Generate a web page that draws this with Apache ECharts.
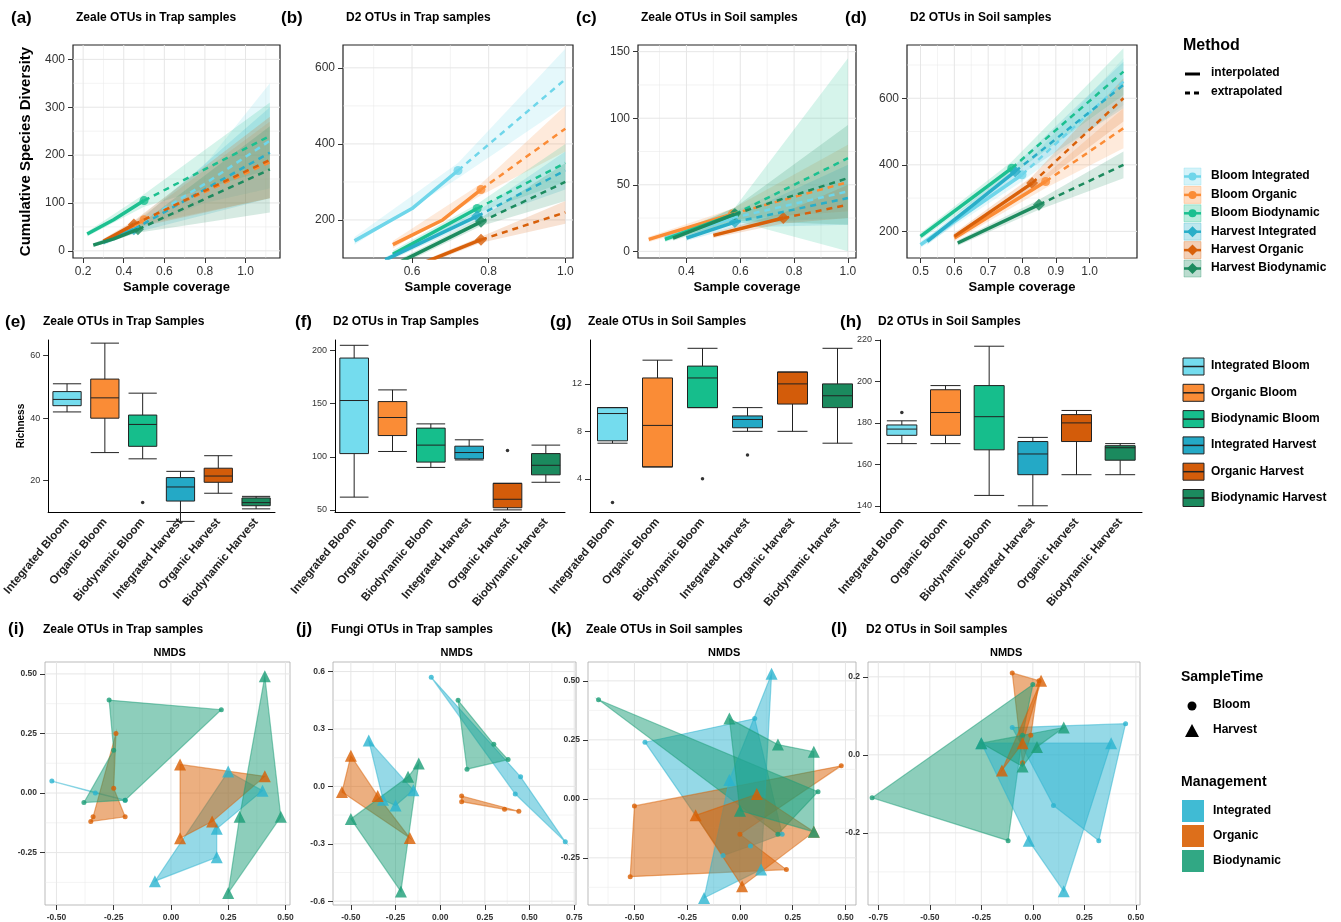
<!DOCTYPE html>
<html><head><meta charset="utf-8">
<script src="https://cdn.jsdelivr.net/npm/echarts@6/dist/echarts.min.js"></script>
<style>html,body{margin:0;background:#fff}#c{width:1341px;height:922px}</style></head>
<body><div id="c"></div>
<script>
// ---------- DATA ----------
const rareNames = ['Bloom Integrated','Bloom Organic','Bloom Biodynamic','Harvest Integrated','Harvest Organic','Harvest Biodynamic'];
const rareColors = ['#6fd6ea','#fb8c36','#1cc090','#29aec8','#d8600a','#1d8b5f'];
// each: [interpolated points, extrapolated points, band [x,lo,hi]]
const rareA = [
 [[[0.3,18],[0.45,50]],[[0.8,140],[1.12,230]],[[0.3,12,24],[0.45,40,60],[0.8,100,180],[1.12,130,350]]],
 [[[0.35,28],[0.5,65]],[[1.12,185]],[[0.35,22,34],[0.5,55,75],[1.12,110,270]]],
 [[[0.22,35],[0.35,65],[0.5,105]],[[1.12,240]],[[0.22,30,40],[0.5,92,118],[1.12,170,310]]],
 [[[0.3,18],[0.45,45]],[[1.12,205]],[[0.3,12,24],[0.45,37,53],[1.12,110,300]]],
 [[[0.3,20],[0.45,55]],[[1.12,190]],[[0.3,15,25],[0.45,47,63],[1.12,110,280]]],
 [[[0.25,12],[0.35,25],[0.47,45]],[[1.12,170]],[[0.25,8,16],[0.47,38,52],[1.12,80,260]]]
];
const rareB = [
 [[[0.45,145],[0.6,230],[0.72,330]],[[1.0,570]],[[0.45,135,155],[0.72,310,350],[1.0,500,650]]],
 [[[0.55,135],[0.68,200],[0.78,280]],[[1.0,440]],[[0.55,125,145],[0.78,265,295],[1.0,380,500]]],
 [[[0.55,110],[0.77,230]],[[1.0,350]],[[0.55,100,120],[0.77,218,242],[1.0,300,400]]],
 [[[0.53,95],[0.77,210]],[[1.0,330]],[[0.53,88,102],[0.77,198,222],[1.0,280,380]]],
 [[[0.55,55],[0.78,148]],[[1.0,220]],[[0.55,50,60],[0.78,140,156],[1.0,190,250]]],
 [[[0.55,80],[0.78,195]],[[1.0,300]],[[0.55,72,88],[0.78,184,206],[1.0,250,350]]]
];
const rareC = [
 [[[0.32,10],[0.57,25]],[[1.0,45]],[[0.32,8,12],[0.57,21,29],[1.0,25,70]]],
 [[[0.26,9],[0.57,28]],[[1.0,52]],[[0.26,7,11],[0.57,24,32],[1.0,30,80]]],
 [[[0.32,9],[0.58,28]],[[1.0,70]],[[0.32,7,11],[0.58,23,33],[1.0,0,145]]],
 [[[0.4,10],[0.58,22]],[[1.0,40]],[[0.4,8,12],[0.58,18,26],[1.0,20,65]]],
 [[[0.5,12],[0.76,25]],[[1.0,35]],[[0.5,10,14],[0.76,21,29],[1.0,25,50]]],
 [[[0.35,10],[0.58,28]],[[1.0,55]],[[0.35,8,12],[0.58,23,33],[1.0,20,95]]]
];
const rareD = [
 [[[0.5,160],[0.8,370]],[[1.1,650]],[[0.5,150,170],[0.8,350,390],[1.1,580,720]]],
 [[[0.6,180],[0.87,350]],[[1.1,510]],[[0.6,170,190],[0.87,330,370],[1.1,450,570]]],
 [[[0.5,185],[0.77,390]],[[1.1,680]],[[0.5,175,195],[0.77,370,410],[1.1,610,750]]],
 [[[0.52,170],[0.78,380]],[[1.1,640]],[[0.52,160,180],[0.78,360,400],[1.1,570,710]]],
 [[[0.6,185],[0.83,345]],[[1.1,600]],[[0.6,175,195],[0.83,325,365],[1.1,530,660]]],
 [[[0.61,165],[0.85,280]],[[1.1,400]],[[0.61,157,173],[0.85,265,295],[1.1,360,440]]]
];
const ticksA = {x:[0.2,0.4,0.6,0.8,1.0], y:[0,100,200,300,400]};
const ticksB = {x:[0.6,0.8,1.0], y:[200,400,600]};
const ticksC = {x:[0.4,0.6,0.8,1.0], y:[0,50,100,150]};
const ticksD = {x:[0.5,0.6,0.7,0.8,0.9,1.0], y:[200,400,600]};
const boxCats = ['Integrated Bloom','Organic Bloom','Biodynamic Bloom','Integrated Harvest','Organic Harvest','Biodynamic Harvest'];
const boxColors = ['#74dcee','#fa8c36','#16be8c','#24a9c6','#d35c0a','#1b8a5e'];
const boxE = [[42,44,46,48.5,51],[29,40,46.5,52.5,64],[27,31,38,41,48],[7,13.5,18,21,23],[16,19.5,21.5,24,28],[11,12,13,14.5,15]];
const outE = [[2,13]];
const boxF = [[62,103,153,193,205],[105,120,137,152,163],[90,95,111,127,131],[97,98,104,110,116],[50,52,60,75,75],[76,83,92,103,111]];
const outF = [[4,106]];
const boxG = [[7,7.2,9.5,10,10],[5,5,8.5,12.5,14],[10,10,12.5,13.5,15],[8,8.3,9,9.3,10],[8,10.3,12,13,13],[7,10,11,12,15]];
const outG = [[0,2],[2,4],[3,6]];
const boxH = [[170,174,177,179,181],[170,174,185,196,198],[145,167,183,198,217],[140,155,165,171,173],[155,171,180,184,186],[155,162,168,169,170]];
const outH = [[0,185]];
const ticksE=[20,40,60], ticksF=[50,100,150,200], ticksG=[4,8,12], ticksH=[140,160,180,200,220];
const nmdsColors = ['#2bb4cf','#d95f02','#1b9e77'];
// groups: Bloom Integrated, Bloom Organic, Bloom Biodynamic, Harvest Integrated, Harvest Organic, Harvest Biodynamic
const nmdsI = [
 [[-0.52,0.05],[-0.2,-0.03],[-0.33,0.0]],
 [[-0.35,-0.12],[-0.34,-0.1],[-0.24,0.25],[-0.2,-0.1],[-0.25,0.02]],
 [[-0.27,0.39],[0.22,0.35],[-0.38,-0.04],[-0.2,-0.03],[-0.25,0.18]],
 [[-0.07,-0.37],[0.2,-0.27],[0.25,0.09],[0.4,0.01],[0.2,-0.15]],
 [[0.04,0.12],[0.04,-0.19],[0.18,-0.12],[0.41,0.07]],
 [[0.41,0.49],[0.48,-0.1],[0.25,-0.42],[0.3,-0.1]]
];
const nmdsJ = [
 [[-0.05,0.57],[0.45,0.05],[0.7,-0.29],[0.42,-0.04]],
 [[0.12,-0.05],[0.36,-0.12],[0.12,-0.08],[0.44,-0.13]],
 [[0.1,0.45],[0.3,0.22],[0.15,0.09],[0.38,0.14]],
 [[-0.4,0.24],[-0.15,-0.02],[-0.25,-0.1],[-0.32,-0.07]],
 [[-0.5,0.16],[-0.55,-0.03],[-0.17,-0.27],[-0.35,-0.05]],
 [[-0.5,-0.17],[-0.22,-0.55],[-0.12,0.12],[-0.18,0.05]]
];
const nmdsK = [
 [[-0.45,0.24],[-0.08,-0.24],[0.05,-0.2],[0.07,0.34],[0.2,-0.15]],
 [[-0.52,-0.33],[-0.5,-0.03],[0.48,0.14],[0.22,-0.3],[0.0,-0.15]],
 [[-0.67,0.42],[0.18,-0.15],[0.37,0.03]],
 [[0.15,0.53],[-0.17,-0.42],[0.1,-0.3],[-0.05,0.08]],
 [[-0.21,-0.07],[0.01,-0.37],[0.35,-0.14],[0.08,0.02]],
 [[-0.05,0.34],[0.35,0.2],[0.35,-0.14],[0.18,0.23],[0.0,-0.05]]
];
const nmdsL = [
 [[-0.1,0.07],[0.45,0.08],[0.32,-0.22],[0.1,-0.13]],
 [[-0.1,0.21],[0.03,0.19],[-0.05,-0.02],[-0.01,0.05]],
 [[-0.78,-0.11],[0.0,0.18],[-0.12,-0.22],[-0.05,0.05]],
 [[-0.25,0.03],[0.38,0.03],[0.15,-0.35],[-0.02,-0.22]],
 [[-0.15,-0.04],[0.04,0.19],[-0.05,0.03]],
 [[-0.25,0.03],[0.15,0.07],[-0.05,-0.03],[0.02,0.02]]
];
const ticksI={x:[-0.5,-0.25,0,0.25,0.5],y:[-0.25,0,0.25,0.5]};
const ticksJ={x:[-0.5,-0.25,0,0.25,0.5,0.75],y:[-0.6,-0.3,0,0.3,0.6]};
const ticksK={x:[-0.5,-0.25,0,0.25,0.5],y:[-0.25,0,0.25,0.5]};
const ticksL={x:[-0.75,-0.5,-0.25,0,0.25,0.5],y:[-0.2,0,0.2]};

// ---------- BUILD ----------
const F = 'Liberation Sans';
const grids=[], xAxes=[], yAxes=[], series=[], graphics=[];
function addText(x,y,t,opt){graphics.push({type:'text',left:x,top:y,style:Object.assign({text:t,fontFamily:F,fill:'#000',fontSize:12,fontWeight:'bold'},opt||{})});}
function minors(t){const r=t.slice();for(let i=0;i<t.length-1;i++)r.push((t[i]+t[i+1])/2);const st=t[1]-t[0];r.push(t[0]-st/2,t[t.length-1]+st/2);return r.sort((a,b)=>a-b);}
function valAxis(gi,min,max,ticks,fmt,fs,extra){
 return Object.assign({type:'value',gridIndex:gi,min:min,max:max,
  axisLine:{show:false,onZero:false},
  axisTick:{show:true,customValues:ticks,lineStyle:{color:'#333'}},
  axisLabel:{customValues:ticks,color:'#333',fontFamily:F,fontSize:fs,formatter:fmt},
  splitLine:{show:false}},extra||{});
}
function gridLines(gi,xr,yr,xt,yt,col){
 const xs=minors(xt).filter(v=>v>xr[0]&&v<xr[1]), ys=minors(yt).filter(v=>v>yr[0]&&v<yr[1]);
 series.push({type:'custom',xAxisIndex:gi,yAxisIndex:gi,silent:true,z:0,data:[[xr[0],yr[0]]],
  renderItem:(p,api)=>{const ch=[];
   xs.forEach(v=>{const a=api.coord([v,yr[0]]),b=api.coord([v,yr[1]]);ch.push({type:'line',shape:{x1:a[0],y1:a[1],x2:b[0],y2:b[1]},style:{stroke:col,lineWidth:xt.includes(v)?1:0.5}});});
   ys.forEach(v=>{const a=api.coord([xr[0],v]),b=api.coord([xr[1],v]);ch.push({type:'line',shape:{x1:a[0],y1:a[1],x2:b[0],y2:b[1]},style:{stroke:col,lineWidth:yt.some(t=>Math.abs(t-v)<1e-9)?1:0.5}});});
   return {type:'group',children:ch};}});
}

const row1 = [
 {d:rareA,t0:ticksA,g:[73,45,207,213],x:[0.15,1.17],y:[-15,430],t:'Zeale OTUs in Trap samples',lab:'(a)'},
 {d:rareB,t0:ticksB,g:[343,45,230,213],x:[0.42,1.02],y:[100,660],t:'D2 OTUs in Trap samples',lab:'(b)'},
 {d:rareC,t0:ticksC,g:[638,45,218,213],x:[0.22,1.03],y:[-5,155],t:'Zeale OTUs in Soil samples',lab:'(c)'},
 {d:rareD,t0:ticksD,g:[907,45,230,213],x:[0.46,1.14],y:[120,760],t:'D2 OTUs in Soil samples',lab:'(d)'}
];
row1.forEach((p,pi)=>{
 const gi=grids.length;
 grids.push({left:p.g[0],top:p.g[1],width:p.g[2],height:p.g[3],show:true,borderColor:'#222',borderWidth:1.2});
 xAxes.push(valAxis(gi,p.x[0],p.x[1],p.t0.x,v=>v.toFixed(1),12,{name:'Sample coverage',nameLocation:'middle',nameGap:23,nameTextStyle:{fontFamily:F,fontWeight:'bold',fontSize:13,color:'#000'}}));
 yAxes.push(valAxis(gi,p.y[0],p.y[1],p.t0.y,v=>v,12,{name:pi==0?'Cumulative Species Diversity':'',nameLocation:'middle',nameGap:40,nameTextStyle:{fontFamily:F,fontWeight:'bold',fontSize:15,color:'#000'}}));
 gridLines(gi,p.x,p.y,p.t0.x,p.t0.y,'#e6e6e6');
 addText(p.g[0]-62,10,p.lab,{fontSize:17});
 addText(p.g[0]+3,12,p.t,{fontSize:12});
 p.d.forEach((s,si)=>{
   const col=rareColors[si], band=s[2];
   series.push({type:'custom',xAxisIndex:gi,yAxisIndex:gi,silent:true,clip:true,data:[[band[0][0],band[0][1]]],
     renderItem:(params,api)=>{const up=band.map(b=>api.coord([b[0],b[2]]));const lo=band.map(b=>api.coord([b[0],b[1]])).reverse();
       return {type:'polygon',shape:{points:up.concat(lo)},style:{fill:col,opacity:0.18}};}});
 });
 p.d.forEach((s,si)=>{
   const col=rareColors[si]; const obs=s[0][s[0].length-1];
   series.push({type:'line',xAxisIndex:gi,yAxisIndex:gi,data:s[0],symbol:'none',lineStyle:{color:col,width:3.5}});
   series.push({type:'line',xAxisIndex:gi,yAxisIndex:gi,data:[obs].concat(s[1]),symbol:'none',lineStyle:{color:col,width:2.5,type:[6,5]}});
   series.push({type:'scatter',xAxisIndex:gi,yAxisIndex:gi,data:[obs],symbol:si<3?'circle':'diamond',symbolSize:si<3?9:12,itemStyle:{color:col}});
 });
});
const row2=[
 {b:boxE,o:outE,tk:ticksE,g:[45,340,230,172],y:[10,65],t:'Zeale OTUs in Trap Samples',lab:'(e)',yn:'Richness'},
 {b:boxF,o:outF,tk:ticksF,g:[335,340,230,172],y:[48,210],t:'D2 OTUs in Trap Samples',lab:'(f)'},
 {b:boxG,o:outG,tk:ticksG,g:[590,340,270,172],y:[1.2,15.7],t:'Zeale OTUs in Soil Samples',lab:'(g)'},
 {b:boxH,o:outH,tk:ticksH,g:[880,340,262,172],y:[137,220],t:'D2 OTUs in Soil Samples',lab:'(h)'}
];
row2.forEach((p,pi)=>{
 const gi=grids.length;
 grids.push({left:p.g[0],top:p.g[1],width:p.g[2],height:p.g[3]});
 xAxes.push({type:'category',gridIndex:gi,data:boxCats,axisLine:{lineStyle:{color:'#000'}},axisTick:{alignWithLabel:true,lineStyle:{color:'#000'}},
   axisLabel:{rotate:50,interval:0,fontFamily:F,fontSize:11.5,fontWeight:'bold',color:'#222'}});
 const ya=valAxis(gi,p.y[0],p.y[1],p.tk,v=>v,9,{name:p.yn||'',nameLocation:'middle',nameGap:22,nameTextStyle:{fontFamily:F,fontWeight:'bold',fontSize:10,color:'#000'}});
 ya.axisLine={show:true,onZero:false,lineStyle:{color:'#000'}};
 yAxes.push(ya);
 addText(p.g[0]-40,314,p.lab,{fontSize:17});
 addText(p.g[0]-2,316,p.t,{fontSize:12});
 series.push({type:'boxplot',xAxisIndex:gi,yAxisIndex:gi,boxWidth:[20,30],
   data:p.b.map((v,i)=>({value:v,itemStyle:{color:boxColors[i],borderColor:'#222',borderWidth:1}})),emphasis:{disabled:true}});
 series.push({type:'scatter',xAxisIndex:gi,yAxisIndex:gi,data:p.o.map(o=>[boxCats[o[0]],o[1]]),symbolSize:3.5,itemStyle:{color:'#000'}});
});
const row3=[
 {d:nmdsI,tk:ticksI,g:[45,662,245,243],x:[-0.55,0.52],y:[-0.47,0.55],t:'Zeale OTUs in Trap samples',lab:'(i)',yf:2},
 {d:nmdsJ,tk:ticksJ,g:[333,662,243,243],x:[-0.6,0.76],y:[-0.62,0.65],t:'Fungi OTUs in Trap samples',lab:'(j)',yf:1},
 {d:nmdsK,tk:ticksK,g:[588,662,268,243],x:[-0.72,0.55],y:[-0.45,0.58],t:'Zeale OTUs in Soil samples',lab:'(k)',yf:2},
 {d:nmdsL,tk:ticksL,g:[868,662,272,243],x:[-0.8,0.52],y:[-0.385,0.238],t:'D2 OTUs in Soil samples',lab:'(l)',yf:1}
];
row3.forEach((p,pi)=>{
 const gi=grids.length;
 grids.push({left:p.g[0],top:p.g[1],width:p.g[2],height:p.g[3],show:true,borderColor:'#aaa',borderWidth:0.8});
 xAxes.push(valAxis(gi,p.x[0],p.x[1],p.tk.x,v=>v.toFixed(2),8.5));
 yAxes.push(valAxis(gi,p.y[0],p.y[1],p.tk.y,v=>v.toFixed(p.yf),8.5));
 xAxes[gi].axisLabel.fontWeight='bold'; yAxes[gi].axisLabel.fontWeight='bold';
 gridLines(gi,p.x,p.y,p.tk.x,p.tk.y,'#e6e6e6');
 addText(p.g[0]-37,621,p.lab,{fontSize:17});
 addText(p.g[0]-2,624,p.t,{fontSize:12});
 addText(p.g[0]+p.g[2]/2-14,647,'NMDS',{fontSize:11});
 p.d.forEach((pts,k)=>{
   const col=nmdsColors[k%3];
   series.push({type:'custom',xAxisIndex:gi,yAxisIndex:gi,silent:true,data:[pts[0]],z:1,
     renderItem:(params,api)=>{const c=pts.map(q=>api.coord(q));const cx=c.reduce((a,b)=>a+b[0],0)/c.length,cy=c.reduce((a,b)=>a+b[1],0)/c.length;
       c.sort((a,b)=>Math.atan2(a[1]-cy,a[0]-cx)-Math.atan2(b[1]-cy,b[0]-cx));
       return {type:'polygon',shape:{points:c},style:{fill:col,opacity:0.5,stroke:col,lineWidth:1.2}};}});
   series.push({type:'scatter',xAxisIndex:gi,yAxisIndex:gi,data:pts,z:3,symbol:k<3?'circle':'triangle',symbolSize:k<3?5:12,itemStyle:{color:col}});
 });
});
// ---- Legends ----
addText(1183,38,'Method',{fontSize:16});
graphics.push({type:'line',shape:{x1:1185,y1:74,x2:1200,y2:74},style:{stroke:'#000',lineWidth:3}});
graphics.push({type:'line',shape:{x1:1185,y1:93,x2:1200,y2:93},style:{stroke:'#000',lineWidth:3,lineDash:[5,4]}});
addText(1211,67,'interpolated'); addText(1211,86,'extrapolated');
rareNames.forEach((n,i)=>{const y=168+i*18.4;
 graphics.push({type:'rect',shape:{x:1184,y:y,width:17,height:17},style:{fill:rareColors[i],opacity:0.3,stroke:rareColors[i]}});
 graphics.push({type:'line',shape:{x1:1184,y1:y+8.5,x2:1201,y2:y+8.5},style:{stroke:rareColors[i],lineWidth:2.5}});
 graphics.push(i<3?{type:'circle',shape:{cx:1192.5,cy:y+8.5,r:4},style:{fill:rareColors[i]}}:
   {type:'polygon',shape:{points:[[1192.5,y+3],[1198,y+8.5],[1192.5,y+14],[1187,y+8.5]]},style:{fill:rareColors[i]}});
 addText(1211,y+2,n);});
boxCats.forEach((n,i)=>{const y=358+i*26.3;
 graphics.push({type:'rect',shape:{x:1183,y:y,width:21,height:17},style:{fill:boxColors[i],stroke:'#222',lineWidth:1}});
 graphics.push({type:'line',shape:{x1:1183,y1:y+8.5,x2:1204,y2:y+8.5},style:{stroke:'#222',lineWidth:1.5}});
 addText(1211,y+2,n);});
addText(1181,670,'SampleTime',{fontSize:14});
graphics.push({type:'circle',shape:{cx:1192,cy:706,r:4.5},style:{fill:'#000'}});
graphics.push({type:'polygon',shape:{points:[[1192,724],[1199,737],[1185,737]]},style:{fill:'#000'}});
addText(1213,699,'Bloom'); addText(1213,724,'Harvest');
addText(1181,775,'Management',{fontSize:14});
['Integrated','Organic','Biodynamic'].forEach((n,i)=>{const y=800+i*25;
 graphics.push({type:'rect',shape:{x:1182,y:y,width:22,height:22},style:{fill:nmdsColors[i],opacity:0.9}});
 addText(1213,y+5,n,{fontWeight:'bold'});});

const chart=echarts.init(document.getElementById('c'));
chart.setOption({animation:false,grid:grids,xAxis:xAxes,yAxis:yAxes,series:series,graphic:graphics});
</script></body></html>
